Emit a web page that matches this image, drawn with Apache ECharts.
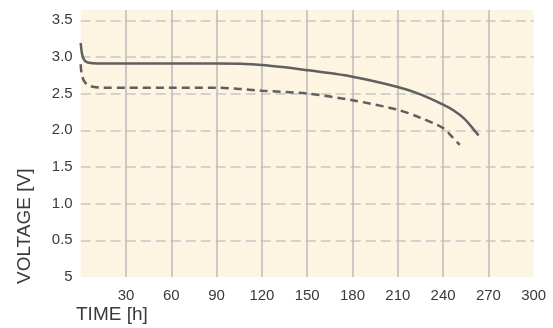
<!DOCTYPE html>
<html><head><meta charset="utf-8">
<script src="https://cdn.jsdelivr.net/npm/echarts@6/dist/echarts.min.js"></script>
<style>html,body{margin:0;padding:0;background:#fff}#c{width:553px;height:328px}</style>
</head><body><div id="c"></div>
<script>
// Data
var timeSolid = [0, 0.8, 2, 4, 8, 15, 30, 60, 90, 120, 150, 180, 210, 225, 240, 247, 254, 259.5, 263.5];
var voltSolid = [3.19, 3.05, 2.97, 2.93, 2.915, 2.91, 2.91, 2.91, 2.91, 2.89, 2.82, 2.73, 2.59, 2.49, 2.35, 2.27, 2.16, 2.03, 1.93];
var timeDash = [0, 0.5, 2, 4.5, 8, 15, 30, 60, 90, 120, 150, 180, 210, 225, 240, 246, 251];
var voltDash = [2.90, 2.78, 2.68, 2.62, 2.595, 2.58, 2.58, 2.58, 2.58, 2.54, 2.50, 2.41, 2.28, 2.17, 2.03, 1.91, 1.80];
var xTickLabels = ['30','60','90','120','150','180','210','240','270','300'];
var yTickLabels = ['5','0.5','1.0','1.5','2.0','2.5','3.0','3.5'];
var xName = 'TIME [h]';
var yName = 'VOLTAGE [V]';

function pairs(xs, ys){ return xs.map(function(x,i){ return [x, ys[i]]; }); }

var chart = echarts.init(document.getElementById('c'), null, {renderer:'canvas'});
chart.setOption({
  animation:false,
  grid:{left:80.7, right:19.3, top:10, bottom:51, show:true, backgroundColor:'#fdf4e1', borderWidth:0},
  graphic:[
    {type:'text', left:76, top:305, style:{text:xName, font:'19px "Liberation Sans", Arial, sans-serif', fill:'#3a3a3a'}},
    {type:'text', x:15, y:284, rotation:Math.PI/2, style:{text:yName, font:'19px "Liberation Sans", Arial, sans-serif', fill:'#3a3a3a', textVerticalAlign:'top'}}
  ],
  xAxis:{type:'value', min:0, max:300, interval:30,
    axisLine:{show:false}, axisTick:{show:false},
    axisLabel:{showMinLabel:false, margin:11, fontSize:15, color:'#3a3a3a', fontFamily:'"Liberation Sans", Arial, sans-serif',
      formatter:function(v){ var i=Math.round(v/30)-1; return i>=0 ? xTickLabels[i] : ''; }},
    splitLine:{show:true, showMinLine:false, showMaxLine:false, lineStyle:{color:'#bbbbbb', width:1.5}}
  },
  yAxis:{type:'value', min:0, max:3.64, interval:0.5,
    axisLine:{show:false}, axisTick:{show:false},
    axisLabel:{showMaxLabel:false, margin:8, fontSize:15, color:'#3a3a3a', fontFamily:'"Liberation Sans", Arial, sans-serif',
      formatter:function(v){ var i=Math.round(v/0.5); return (Math.abs(v-i*0.5)<1e-6 && yTickLabels[i]!==undefined) ? yTickLabels[i] : ''; }},
    splitLine:{show:true, showMinLine:false, showMaxLine:false, lineStyle:{color:'#c6c6c6', width:1.5, type:[10,5]}}
  },
  series:[
    {type:'line', data:pairs(timeSolid, voltSolid), smooth:0.3, showSymbol:false,
     lineStyle:{color:'#5f5f5f', width:2.5}},
    {type:'line', data:pairs(timeDash, voltDash), smooth:0.3, showSymbol:false,
     lineStyle:{color:'#5f5f5f', width:2.5, type:[8,5]}}
  ]
});
</script></body></html>
